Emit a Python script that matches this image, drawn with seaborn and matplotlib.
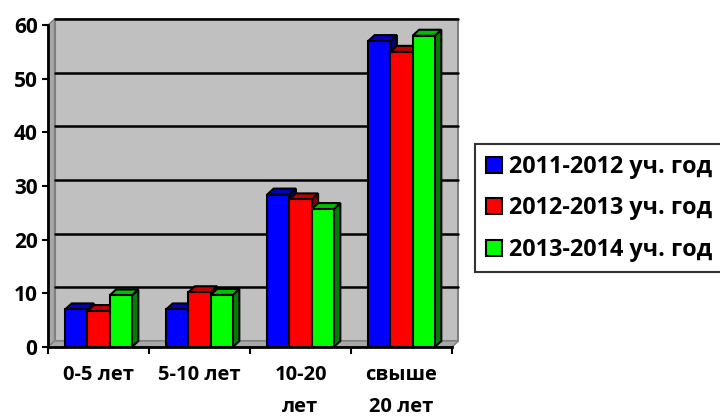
import os
import numpy as np
import pandas as pd
import matplotlib
matplotlib.use("Agg")
import matplotlib.pyplot as plt
import seaborn as sns
from matplotlib.patches import Polygon, Rectangle, Patch
from matplotlib import font_manager as fm

categories = ["0-5 лет", "5-10 лет", "10-20\nлет", "свыше\n20 лет"]
series = ["2011-2012 уч. год", "2012-2013 уч. год", "2013-2014 уч. год"]
v2011 = [7.0, 7.0, 28.4, 57.0]
v2012 = [6.7, 10.2, 27.5, 55.0]
v2013 = [9.6, 9.7, 25.7, 58.0]
yticks = [0, 10, 20, 30, 40, 50, 60]

front = ["#0000FF", "#FF0000", "#00FF00"]
tops = ["#0000C0", "#C00000", "#00C000"]
sides = ["#000080", "#800000", "#008000"]

sns.set_theme(style="white")

# choose a static bold font file by file name
files = [e.fname for e in fm.fontManager.ttflist]
bold_path = None
for key in ["opensans-bold.", "notosans-bold.", "liberationsans-bold.", "dejavusans-bold."]:
    for f in files:
        if os.path.basename(f).lower().startswith(key):
            bold_path = f
            break
    if bold_path:
        break
if bold_path is None:
    bold_path = fm.findfont(fm.FontProperties(family="DejaVu Sans", weight="bold"))

def fprop(size):
    return fm.FontProperties(fname=bold_path, size=size)

df = pd.DataFrame({
    "cat": categories * 3,
    "series": np.repeat(series, len(categories)),
    "val": v2011 + v2012 + v2013,
})

W, H = 720, 419
fig = plt.figure(figsize=(W / 100, H / 100), dpi=100)
ax_l, ax_b, ax_w, ax_h = 48, 72, 404, 322
ax = fig.add_axes([ax_l / W, ax_b / H, ax_w / W, ax_h / H])
ax.set_facecolor("none")

sns.barplot(data=df, x="cat", y="val", hue="series", order=categories,
            hue_order=series, palette=front, width=0.66, edgecolor="black",
            linewidth=1.5, saturation=1, ax=ax, legend=False, errorbar=None)
bars = [p for p in ax.patches if p.get_height() > 0]

ax.set_xlim(-0.5, len(categories) - 0.5)
ax.set_ylim(0, 60)

# 3D depth offsets (pixels)
DX, DY = 6.5, 6.0
dxa, dya = DX / ax_w, DY / ax_h
ddx = DX * (len(categories)) / ax_w
ddy = DY * 60 / ax_h

# back wall, side wall, floor
ax.add_patch(Rectangle((dxa, dya), 1, 1, transform=ax.transAxes,
                       facecolor="#C0C0C0", edgecolor="#808080", lw=1.5,
                       clip_on=False, zorder=0))
ax.add_patch(Polygon([(0, 0), (dxa, dya), (dxa, 1 + dya), (0, 1)],
                     closed=True, transform=ax.transAxes, facecolor="#A8A8A8",
                     edgecolor="#808080", lw=1.0, clip_on=False, zorder=0.2))
ax.add_patch(Polygon([(0, 0), (1, 0), (1 + dxa, dya), (dxa, dya)],
                     closed=True, transform=ax.transAxes, facecolor="#A8A8A8",
                     edgecolor="#808080", lw=1.0, clip_on=False, zorder=0.2))
for t in yticks[1:]:
    ya = t / 60 + dya
    ax.plot([dxa, 1 + dxa], [ya, ya], transform=ax.transAxes, color="black",
            lw=1.8, clip_on=False, zorder=0.5)

# 3D bar faces
front_hex = [matplotlib.colors.to_hex(c).lower() for c in front]
bars.sort(key=lambda p: p.get_x())
for k, p in enumerate(bars):
    fc = matplotlib.colors.to_hex(p.get_facecolor()).lower()
    idx = front_hex.index(fc) if fc in front_hex else 0
    x0, y0, w, h = p.get_x(), p.get_y(), p.get_width(), p.get_height()
    x1, y1 = x0 + w, y0 + h
    top = Polygon([(x0, y1), (x1, y1), (x1 + ddx, y1 + ddy), (x0 + ddx, y1 + ddy)],
                  closed=True, facecolor=tops[idx], edgecolor="black", lw=1.5,
                  zorder=2 + 2 * k, clip_on=False)
    side = Polygon([(x1, y0), (x1, y1), (x1 + ddx, y1 + ddy), (x1 + ddx, y0 + ddy)],
                   closed=True, facecolor=sides[idx], edgecolor="black", lw=1.5,
                   zorder=2 + 2 * k, clip_on=False)
    ax.add_patch(side)
    ax.add_patch(top)
    p.set_zorder(3 + 2 * k)

# axes styling
for s in ["top", "right"]:
    ax.spines[s].set_visible(False)
for s in ["left", "bottom"]:
    ax.spines[s].set_color("black")
    ax.spines[s].set_linewidth(2)
    ax.spines[s].set_zorder(100)

ax.set_yticks(yticks)
ax.set_yticklabels([str(t) for t in yticks])
ax.tick_params(axis="y", left=True, direction="out", length=4.5, width=1.5,
               color="black", pad=3)
ax.set_xticks(range(len(categories)))
ax.set_xticklabels(categories, linespacing=1.8)
ax.set_xticks(np.arange(-0.5, len(categories)), minor=True)
ax.tick_params(axis="x", which="major", bottom=False, length=0, pad=13)
ax.tick_params(axis="x", which="minor", bottom=True, direction="out", length=5,
               width=1.5, color="black")
for lab in ax.get_yticklabels():
    lab.set_fontproperties(fprop(15))
    lab.set_color("black")
for lab in ax.get_xticklabels():
    lab.set_fontproperties(fprop(14.5))
    lab.set_color("black")
ax.set_xlabel("")
ax.set_ylabel("")

handles = [Patch(facecolor=c, edgecolor="black", lw=1.5) for c in front]
leg = fig.legend(handles, series, loc="upper left",
                 bbox_to_anchor=(475 / W, 1 - 144 / H), borderaxespad=0,
                 frameon=True, fancybox=False, edgecolor="black",
                 prop=fprop(16.8),
                 handlelength=0.68, handleheight=0.68, handletextpad=0.3,
                 labelspacing=0.75, borderpad=0.46)
leg.get_frame().set_linewidth(1.5)
for t in leg.get_texts():
    t.set_color("black")

fig.savefig("out.png", dpi=100)
